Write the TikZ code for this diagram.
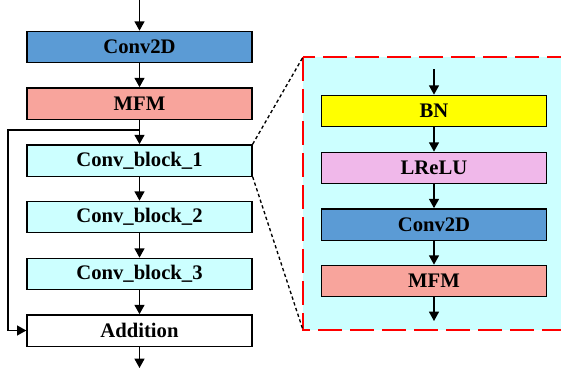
\documentclass[tikz,border=0pt]{standalone}
\usepackage{fontspec}
\setmainfont{Liberation Serif}
\usetikzlibrary{arrows.meta}

\definecolor{convblue}{RGB}{91,155,213}
\definecolor{mfmred}{RGB}{248,164,156}
\definecolor{blockcyan}{RGB}{204,255,255}
\definecolor{bnyellow}{RGB}{255,255,0}
\definecolor{relupink}{RGB}{240,184,234}

\tikzset{
	blk/.style={draw, line width=1pt, minimum width=168.75pt, minimum height=23.5pt,
		inner sep=0pt, font=\bfseries\fontsize{15.5}{18}\selectfont},
	arr/.style={line width=1pt, -{Triangle[length=7pt,width=7.5pt]}},
}

\begin{document}
\begin{tikzpicture}[x=0.75pt, y=-0.75pt]
	\useasboundingbox (0,0) rectangle (561,368);
	% zoomed panel
	\begin{scope}
		\clip (0,0) rectangle (561,368);
		\draw[red, line width=1.5pt, dash pattern=on 18pt off 6pt, fill=blockcyan]
		(303,57) rectangle (580,330);
	\end{scope}
	\coordinate (pnw) at (303,57);
	\coordinate (psw) at (303,330);

	% main column
	\node[blk, fill=convblue] (conv) at (139.5,47) {Conv2D};
	\node[blk, fill=mfmred] (mfm) at (139.5,103.5) {MFM};
	\node[blk, fill=blockcyan] (cb1) at (139.5,160.5) {Conv\_block\_1};
	\node[blk, fill=blockcyan] (cb2) at (139.5,217) {Conv\_block\_2};
	\node[blk, fill=blockcyan] (cb3) at (139.5,274) {Conv\_block\_3};
	\node[blk, fill=white] (add) at (139.5,330.5) {Addition};
	\coordinate (in) at (139.5,0);
	\coordinate (out) at (139.5,368);
	\coordinate (split) at (139.5,130);
	\coordinate (skip) at (8,130);

	\draw[arr] (in) -- (conv);
	\draw[arr] (conv) -- (mfm);
	\draw[arr] (mfm) -- (cb1);
	\draw[arr] (cb1) -- (cb2);
	\draw[arr] (cb2) -- (cb3);
	\draw[arr] (cb3) -- (add);
	\draw[arr] (add) -- (out);
	\draw[arr] (split) -- (skip) |- (add.west);

	% inside Conv_block
	\node[blk, fill=bnyellow] (bn) at (434,111) {BN};
	\node[blk, fill=relupink] (lrelu) at (434,168) {LReLU};
	\node[blk, fill=convblue] (conv2) at (434,224.5) {Conv2D};
	\node[blk, fill=mfmred] (mfm2) at (434,281) {MFM};
	\coordinate (in2) at (434,69);
	\coordinate (out2) at (434,321);

	\draw[arr] (in2) -- (bn);
	\draw[arr] (bn) -- (lrelu);
	\draw[arr] (lrelu) -- (conv2);
	\draw[arr] (conv2) -- (mfm2);
	\draw[arr] (mfm2) -- (out2);

	% zoom lines
	\draw[line width=1pt, dash pattern=on 2.5pt off 2pt] (cb1.north east) -- (pnw);
	\draw[line width=1pt, dash pattern=on 2.5pt off 2pt] (cb1.south east) -- (psw);
\end{tikzpicture}
\end{document}
